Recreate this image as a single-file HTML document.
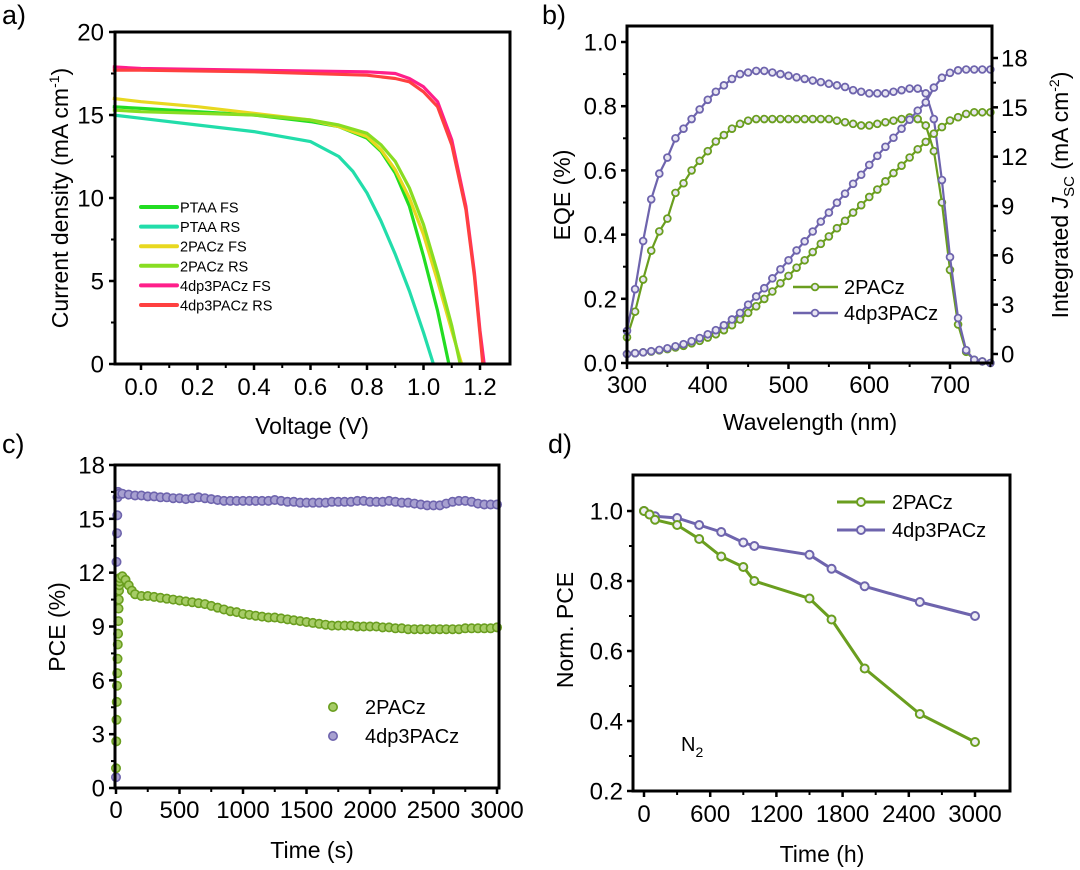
<!DOCTYPE html>
<html><head><meta charset="utf-8"><style>
html,body{margin:0;padding:0;background:#fff;}
svg{display:block;font-family:"Liberation Sans",Arial,sans-serif;}
</style></head><body>
<svg id="fig" width="1080" height="870" viewBox="0 0 1080 870" xmlns="http://www.w3.org/2000/svg">
<text x="2" y="24" font-size="27">a)</text>
<text x="542" y="24" font-size="27">b)</text>
<text x="2" y="453" font-size="27">c)</text>
<text x="548" y="453" font-size="27">d)</text>
<g id="ga"></g>
<g id="gb"></g>
<g id="gc"></g>
<g id="gd"></g>
</svg>
<script>
// ---------- Panel a data ----------
const jvNames = ["PTAA FS","PTAA RS","2PACz FS","2PACz RS","4dp3PACz FS","4dp3PACz RS"];
const jvColors = ["#22dd22","#22ddaa","#e8d820","#88dd22","#ff1f8a","#ff4040"];
const jvV0 = [-0.1,0,0.2,0.4,0.6,0.7,0.8,0.85,0.9,0.95,1.0,1.05,1.09];
const jvJ0 = [15.5,15.4,15.2,15.0,14.6,14.3,13.6,12.8,11.5,9.5,6.5,3.2,0];
const jvV1 = [-0.1,0,0.2,0.4,0.6,0.7,0.75,0.8,0.85,0.9,0.95,1.0,1.035];
const jvJ1 = [15.0,14.8,14.4,14.0,13.4,12.5,11.6,10.3,8.6,6.6,4.4,1.9,0];
const jvV2 = [-0.1,0,0.2,0.4,0.6,0.7,0.8,0.85,0.9,0.95,1.0,1.05,1.1,1.135];
const jvJ2 = [16.0,15.8,15.5,15.1,14.7,14.3,13.7,12.9,11.7,10.0,7.8,5.0,2.0,0];
const jvV3 = [-0.1,0,0.2,0.4,0.6,0.7,0.8,0.85,0.9,0.95,1.0,1.05,1.1,1.13];
const jvJ3 = [15.3,15.2,15.1,15.0,14.7,14.4,13.9,13.2,12.2,10.6,8.4,5.5,2.3,0];
const jvV4 = [-0.1,0,0.4,0.8,0.9,0.95,1.0,1.05,1.1,1.15,1.18,1.2,1.215];
const jvJ4 = [17.9,17.8,17.7,17.6,17.5,17.2,16.7,15.8,13.5,9.5,5.5,2.0,0];
const jvV5 = [-0.1,0,0.4,0.8,0.9,0.95,1.0,1.05,1.1,1.15,1.18,1.2,1.21];
const jvJ5 = [17.7,17.7,17.6,17.4,17.2,17.0,16.4,15.5,13.2,9.3,5.3,1.8,0];
const aXTicks = [0,0.2,0.4,0.6,0.8,1.0,1.2];
const aXLabels = ["0.0","0.2","0.4","0.6","0.8","1.0","1.2"];
const aYTicks = [0,5,10,15,20];

// ---------- Panel b data ----------
const wl = [300,310,320,330,340,350,360,370,380,390,400,410,420,430,440,450,460,470,480,490,500,510,520,530,540,550,560,570,580,590,600,610,620,630,640,650,660,670,680,690,700,710,720,730,740,750];
const eqe2 = [0.08,0.16,0.26,0.35,0.41,0.45,0.53,0.56,0.60,0.63,0.66,0.69,0.71,0.73,0.745,0.755,0.76,0.76,0.76,0.76,0.76,0.76,0.76,0.76,0.76,0.76,0.755,0.75,0.745,0.74,0.74,0.745,0.75,0.755,0.76,0.765,0.76,0.74,0.66,0.50,0.29,0.12,0.035,0.01,0.005,0];
const eqe4 = [0.1,0.23,0.38,0.51,0.59,0.64,0.70,0.73,0.76,0.79,0.82,0.845,0.865,0.885,0.90,0.905,0.91,0.91,0.905,0.90,0.895,0.89,0.885,0.88,0.875,0.87,0.865,0.86,0.85,0.845,0.84,0.84,0.84,0.845,0.85,0.855,0.855,0.84,0.76,0.57,0.33,0.14,0.04,0.01,0.005,0];
const jsc2 = [0,0.05,0.1,0.15,0.22,0.3,0.4,0.5,0.65,0.8,1.0,1.2,1.45,1.75,2.1,2.5,2.9,3.35,3.8,4.3,4.75,5.25,5.7,6.2,6.7,7.15,7.65,8.1,8.6,9.05,9.55,10.0,10.5,11.0,11.45,11.95,12.45,12.9,13.4,13.8,14.2,14.4,14.6,14.7,14.7,14.7];
const jsc4 = [0,0.05,0.1,0.17,0.25,0.35,0.47,0.6,0.78,0.97,1.2,1.45,1.75,2.1,2.5,3.0,3.5,4.0,4.6,5.15,5.7,6.3,6.85,7.45,8.05,8.6,9.2,9.75,10.35,10.9,11.5,12.05,12.6,13.15,13.7,14.25,14.8,15.3,16.2,16.8,17.1,17.25,17.3,17.3,17.3,17.3];
const bXTicks = [300,400,500,600,700];
const bYTicks = [0,0.2,0.4,0.6,0.8,1.0];
const bYLabels = ["0.0","0.2","0.4","0.6","0.8","1.0"];
const bY2Ticks = [0,3,6,9,12,15,18];

// ---------- Panel c data ----------
const tc2 = [0,2,4,6,8,10,12,14,16,18,20,22,24,26,28,30,50,75,100,125,150,200,250,300,350,400,450,500,550,600,650,700,750,800,850,900,950,1000,1050,1100,1150,1200,1250,1300,1350,1400,1450,1500,1550,1600,1650,1700,1750,1800,1850,1900,1950,2000,2050,2100,2150,2200,2250,2300,2350,2400,2450,2500,2550,2600,2650,2700,2750,2800,2850,2900,2950,3000];
const pce2 = [1.1,2.6,3.8,4.8,5.7,6.4,7.2,8.0,8.6,9.3,10.0,10.5,11.0,11.3,11.5,11.7,11.8,11.6,11.3,11.0,10.8,10.7,10.7,10.65,10.6,10.55,10.5,10.45,10.4,10.35,10.3,10.25,10.15,10.05,9.95,9.85,9.8,9.7,9.65,9.6,9.55,9.5,9.5,9.45,9.4,9.35,9.3,9.25,9.2,9.15,9.1,9.05,9.05,9.05,9.05,9.0,9.0,9.0,9.0,8.95,8.95,8.9,8.9,8.85,8.85,8.85,8.85,8.85,8.85,8.85,8.85,8.85,8.9,8.9,8.9,8.9,8.9,8.95];
const tc4 = [0,4,8,10,12,16,25,50,100,150,200,250,300,350,400,450,500,550,600,650,700,750,800,850,900,950,1000,1050,1100,1150,1200,1250,1300,1350,1400,1450,1500,1550,1600,1650,1700,1750,1800,1850,1900,1950,2000,2050,2100,2150,2200,2250,2300,2350,2400,2450,2500,2550,2600,2650,2700,2750,2800,2850,2900,2950,3000];
const pce4 = [0.6,12.6,14.2,15.2,16.2,16.5,16.4,16.4,16.35,16.3,16.3,16.25,16.25,16.2,16.2,16.15,16.15,16.1,16.15,16.2,16.15,16.1,16.05,16.0,16.0,16.0,16.0,16.0,16.0,16.0,16.0,16.05,16.0,15.95,15.95,15.9,15.9,15.9,15.9,15.9,15.95,15.95,15.95,15.95,16.0,16.0,15.95,15.95,15.95,16.0,15.95,15.9,15.9,15.85,15.8,15.75,15.75,15.75,15.85,15.95,16.0,16.0,15.95,15.85,15.8,15.8,15.8];
const cXTicks = [0,500,1000,1500,2000,2500,3000];
const cYTicks = [0,3,6,9,12,15,18];

// ---------- Panel d data ----------
const td = [0,50,100,300,500,700,900,1000,1500,1700,2000,2500,3000];
const norm2 = [1.0,0.99,0.975,0.96,0.92,0.87,0.84,0.80,0.75,0.69,0.55,0.42,0.34];
const norm4 = [1.0,0.99,0.985,0.98,0.96,0.94,0.91,0.90,0.875,0.835,0.785,0.74,0.70];
const dXTicks = [0,600,1200,1800,2400,3000];
const dYTicks = [0.2,0.4,0.6,0.8,1.0];
const dYLabels = ["0.2","0.4","0.6","0.8","1.0"];

const NS = "http://www.w3.org/2000/svg";
const TF = 24, TTF = 23;
function mk(parent, tag, attrs, txt) {
  const e = document.createElementNS(NS, tag);
  for (const k in attrs) e.setAttribute(k, attrs[k]);
  if (txt !== undefined) e.textContent = txt;
  parent.appendChild(e);
  return e;
}
function lin(d0, d1, r0, r1) { return v => r0 + (v - d0) * (r1 - r0) / (d1 - d0); }
const GREEN = "#6a9e1f", PURPLE = "#6e64ad";

function frame(g, L, T, R, B, name) {
  const r = mk(g, "rect", {x:L, y:T, width:R-L, height:B-T, fill:"none", stroke:"#000", "stroke-width":3});
  
  
}
function xTicks(g, xs, vals, labels, B, ly, minorVals) {
  vals.forEach((v,i) => {
    mk(g, "line", {x1:xs(v), x2:xs(v), y1:B, y2:B+6, stroke:"#000", "stroke-width":2.5});
    const t = mk(g, "text", {x:xs(v), y:ly, "font-size":TF, "text-anchor":"middle"}, labels[i]);
    
    
  });
  (minorVals||[]).forEach(v => mk(g, "line", {x1:xs(v), x2:xs(v), y1:B, y2:B+4, stroke:"#000", "stroke-width":2}));
}
function yTicks(g, ys, vals, labels, L, lx, minorVals) {
  vals.forEach((v,i) => {
    mk(g, "line", {x1:L-6, x2:L, y1:ys(v), y2:ys(v), stroke:"#000", "stroke-width":2.5});
    const t = mk(g, "text", {x:lx, y:ys(v)+8.5, "font-size":TF, "text-anchor":"end"}, labels[i]);
    
    
  });
  (minorVals||[]).forEach(v => mk(g, "line", {x1:L-4, x2:L, y1:ys(v), y2:ys(v), stroke:"#000", "stroke-width":2}));
}
function mids(a){ const r=[]; for(let i=0;i<a.length-1;i++) r.push((a[i]+a[i+1])/2); return r; }

// ===== Panel a =====
(function(){
  const g = document.getElementById("ga");
  const L=115,T=32,R=510,B=364;
  const xs = lin(0,1.2,141,480), ys = lin(0,20,B,T);
  const Vs=[jvV0,jvV1,jvV2,jvV3,jvV4,jvV5], Js=[jvJ0,jvJ1,jvJ2,jvJ3,jvJ4,jvJ5];
  for (let s=0;s<6;s++){
    const p = Vs[s].map((v,i)=>xs(v).toFixed(1)+","+ys(Js[s][i]).toFixed(1)).join(" ");
    const pl = mk(g,"polyline",{points:p,fill:"none",stroke:jvColors[s],"stroke-width":3.2,"stroke-linejoin":"round"});
    
    
    const ly = 207 + s*19.6;
    mk(g,"line",{x1:141,x2:177,y1:ly,y2:ly,stroke:jvColors[s],"stroke-width":4,"stroke-linecap":"round"});
    const lt = mk(g,"text",{x:180,y:ly+5.5,"font-size":14.5},jvNames[s]);
    
    
  }
  frame(g,L,T,R,B,"plot-frame-a");
  xTicks(g,xs,aXTicks,aXLabels,B,395,mids(aXTicks));
  yTicks(g,ys,aYTicks,aYTicks.map(String),L,104,mids(aYTicks));
  const xt = mk(g,"text",{x:312,y:434,"font-size":TTF,"text-anchor":"middle"},"Voltage (V)");
  
  
  const yt = mk(g,"text",{transform:"translate(68,198) rotate(-90)","font-size":TTF,"text-anchor":"middle"});
  
  
  mk(yt,"tspan",{},"Current density (mA cm");
  mk(yt,"tspan",{dy:-9,"font-size":14},"-1");
  mk(yt,"tspan",{dy:9},")");
})();

// ===== Panel b =====
(function(){
  const g = document.getElementById("gb");
  const L=627,T=26,R=992,B=363;
  const xs = lin(300,700,627,950), ys = lin(0,1,363,42), ys2 = lin(0,18,354,58);
  function series(yv, yscale, col, name){
    const p = wl.map((w,i)=>xs(w).toFixed(1)+","+yscale(yv[i]).toFixed(1)).join(" ");
    const pl = mk(g,"polyline",{points:p,fill:"none",stroke:col,"stroke-width":2.2});
    
    
    wl.forEach((w,i)=>{
      const c = mk(g,"circle",{cx:xs(w),cy:yscale(yv[i]),r:3.4,fill:"#e8e6f2",stroke:col,"stroke-width":1.8});
      
      
    });
  }
  series(eqe2, ys, GREEN, "eqe-2pacz");
  series(eqe4, ys, PURPLE, "eqe-4dp3pacz");
  series(jsc2, ys2, GREEN, "jsc-2pacz");
  series(jsc4, ys2, PURPLE, "jsc-4dp3pacz");
  frame(g,L,T,R,B,"plot-frame-b");
  xTicks(g,xs,bXTicks,bXTicks.map(String),B,393,mids(bXTicks).concat([750]));
  yTicks(g,ys,bYTicks,bYLabels,L,617,mids(bYTicks));
  bY2Ticks.forEach(v=>{
    mk(g,"line",{x1:R,x2:R+6,y1:ys2(v),y2:ys2(v),stroke:"#000","stroke-width":2.5});
    const t = mk(g,"text",{x:1001,y:ys2(v)+8.5,"font-size":TF},String(v));
    
    
  });
  mids(bY2Ticks).forEach(v=>mk(g,"line",{x1:R,x2:R+4,y1:ys2(v),y2:ys2(v),stroke:"#000","stroke-width":2}));
  [["2PACz",GREEN,287],["4dp3PACz",PURPLE,313]].forEach(e=>{
    mk(g,"line",{x1:793,x2:838,y1:e[2],y2:e[2],stroke:e[1],"stroke-width":2.5});
    mk(g,"circle",{cx:815,cy:e[2],r:3.4,fill:"#e8e6f2",stroke:e[1],"stroke-width":1.8});
    const t = mk(g,"text",{x:844,y:e[2]+7,"font-size":20},e[0]);
    
    
  });
  const xt = mk(g,"text",{x:810,y:430,"font-size":TTF,"text-anchor":"middle"},"Wavelength (nm)");
  
  
  const yt = mk(g,"text",{transform:"translate(570,195) rotate(-90)","font-size":TTF,"text-anchor":"middle"},"EQE (%)");
  
  
  const yt2 = mk(g,"text",{transform:"translate(1068,195) rotate(-90)","font-size":TTF,"text-anchor":"middle"});
  
  
  mk(yt2,"tspan",{},"Integrated ");
  mk(yt2,"tspan",{"font-style":"italic"},"J");
  mk(yt2,"tspan",{dy:6,"font-size":15},"SC");
  mk(yt2,"tspan",{dy:-6}," (mA cm");
  mk(yt2,"tspan",{dy:-9,"font-size":14},"-2");
  mk(yt2,"tspan",{dy:9},")");
})();

// ===== Panel c =====
(function(){
  const g = document.getElementById("gc");
  const L=115,T=465,R=499,B=788;
  const xs = lin(0,3000,116,497), ys = lin(0,18,B,T);
  function pts(t,v,col,fill,name){
    t.forEach((tt,i)=>{
      const c = mk(g,"circle",{cx:xs(tt),cy:ys(v[i]),r:4.2,fill:fill,stroke:col,"stroke-width":1.6});
      
      
    });
  }
  pts(tc4,pce4,PURPLE,"#a7a0d0","pce-point-4dp3pacz");
  pts(tc2,pce2,GREEN,"#a6cc66","pce-point-2pacz");
  frame(g,L,T,R,B,"plot-frame-c");
  xTicks(g,xs,cXTicks,cXTicks.map(String),B,818,mids(cXTicks));
  yTicks(g,ys,cYTicks,cYTicks.map(String),L,105,mids(cYTicks));
  [["2PACz",GREEN,"#a6cc66",707],["4dp3PACz",PURPLE,"#a7a0d0",736]].forEach(e=>{
    mk(g,"circle",{cx:333,cy:e[3],r:4.2,fill:e[2],stroke:e[1],"stroke-width":1.6});
    const t = mk(g,"text",{x:365,y:e[3]+7,"font-size":20},e[0]);
    
    
  });
  const xt = mk(g,"text",{x:312,y:858,"font-size":TTF,"text-anchor":"middle"},"Time (s)");
  
  
  const yt = mk(g,"text",{transform:"translate(65,627) rotate(-90)","font-size":TTF,"text-anchor":"middle"},"PCE (%)");
  
  
})();

// ===== Panel d =====
(function(){
  const g = document.getElementById("gd");
  const L=633,T=475,R=1010,B=791;
  const xs = lin(0,3000,644,975), ys = lin(0.2,1.0,791,511);
  function series(v,col,name){
    const p = td.map((t,i)=>xs(t).toFixed(1)+","+ys(v[i]).toFixed(1)).join(" ");
    const pl = mk(g,"polyline",{points:p,fill:"none",stroke:col,"stroke-width":3});
    
    
    td.forEach((t,i)=>{
      const c = mk(g,"circle",{cx:xs(t),cy:ys(v[i]),r:4,fill:"#eeeef4",stroke:col,"stroke-width":2});
      
      
    });
  }
  series(norm4,PURPLE,"norm-pce-4dp3pacz");
  series(norm2,GREEN,"norm-pce-2pacz");
  frame(g,L,T,R,B,"plot-frame-d");
  xTicks(g,xs,dXTicks,dXTicks.map(String),B,822,mids(dXTicks));
  yTicks(g,ys,dYTicks,dYLabels,L,623,mids(dYTicks));
  [["2PACz",GREEN,502],["4dp3PACz",PURPLE,530]].forEach(e=>{
    mk(g,"line",{x1:837,x2:885,y1:e[2],y2:e[2],stroke:e[1],"stroke-width":3});
    mk(g,"circle",{cx:861,cy:e[2],r:4,fill:"#eeeef4",stroke:e[1],"stroke-width":2});
    const t = mk(g,"text",{x:892,y:e[2]+7,"font-size":20},e[0]);
    
    
  });
  const n2 = mk(g,"text",{x:681,y:751,"font-size":20});
  
  
  mk(n2,"tspan",{},"N");
  mk(n2,"tspan",{dy:6,"font-size":14},"2");
  const xt = mk(g,"text",{x:822,y:862,"font-size":TTF,"text-anchor":"middle"},"Time (h)");
  
  
  const yt = mk(g,"text",{transform:"translate(573,630) rotate(-90)","font-size":TTF,"text-anchor":"middle"},"Norm. PCE");
  
  
})();
</script>
</body></html>
